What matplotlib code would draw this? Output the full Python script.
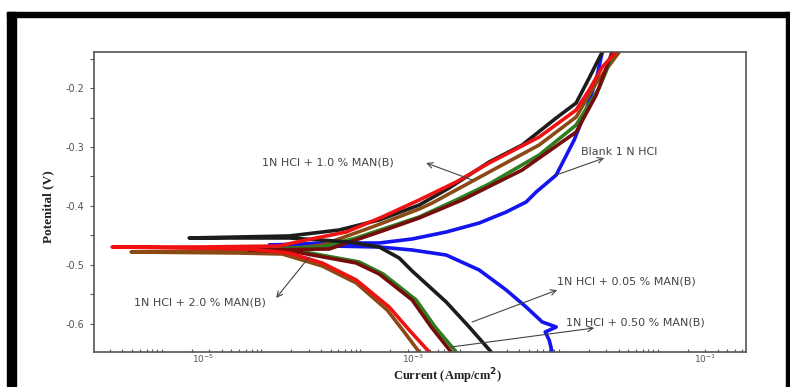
import numpy as np
import matplotlib
matplotlib.use("Agg")
import matplotlib.pyplot as plt
from matplotlib.patches import Rectangle
from matplotlib.ticker import LogLocator, FixedLocator, NullFormatter, FormatStrFormatter

# values: log10 of current (A/cm2) and potential (V),
# each curve runs cathodic end -> Ecorr -> anodic end
blank_logi = [-2.067, -2.097, -2.137, -2.026, -2.167, -2.329, -2.530, -2.802, -3.135, -3.478,
              -3.810, -4.315, -4.919, -4.315, -3.810, -3.478, -3.135, -2.802, -2.530, -2.329,
              -2.228, -2.026, -1.845, -1.724, -1.623, -1.562]
blank_e = [-0.6475, -0.6271, -0.6136, -0.6051, -0.5966, -0.5712, -0.5424, -0.5085, -0.4831, -0.4746,
           -0.4695, -0.4678, -0.4661, -0.4627, -0.4627, -0.4559, -0.4441, -0.4288, -0.4102, -0.3932,
           -0.3763, -0.3475, -0.2881, -0.2373, -0.1864, -0.139]

c005_logi = [-2.681, -2.903, -3.135, -3.478, -3.609, -3.810, -4.113, -4.718, -5.726, -4.718,
             -4.214, -3.810, -3.407, -3.105, -2.702, -2.369, -2.026, -1.825, -1.694, -1.562]
c005_e = [-0.6475, -0.6051, -0.5627, -0.5102, -0.4881, -0.4695, -0.4610, -0.4542, -0.4542, -0.4508,
          -0.4407, -0.4237, -0.3983, -0.3695, -0.3254, -0.2966, -0.2508, -0.2254, -0.1831, -0.139]

c01_logi = [-3.085, -3.286, -3.478, -3.810, -4.042, -4.647, -5.121, -4.315, -3.810, -3.407,
            -2.974, -2.369, -1.825, -1.623, -1.462]
c01_e = [-0.6475, -0.6051, -0.5593, -0.5153, -0.4966, -0.4780, -0.4746, -0.4729, -0.4441, -0.4203,
         -0.3898, -0.3390, -0.2746, -0.2119, -0.139]

c05_logi = [-3.034, -3.246, -3.438, -3.770, -4.012, -4.617, -5.121, -4.385, -4.042, -3.710,
            -3.407, -3.034, -2.702, -2.198, -1.825, -1.593, -1.442]
c05_e = [-0.6475, -0.6051, -0.5593, -0.5153, -0.4949, -0.4763, -0.4729, -0.4695, -0.4542, -0.4356,
         -0.4186, -0.3898, -0.3627, -0.3136, -0.2627, -0.2, -0.139]

c10_logi = [-3.306, -3.508, -3.710, -4.042, -4.385, -4.718, -5.121, -6.502, -5.625, -4.819,
            -4.546, -4.143, -3.780, -3.407, -3.034, -2.702, -2.198, -1.825, -1.694, -1.562, -1.421]
c10_e = [-0.6475, -0.6102, -0.5712, -0.5254, -0.4966, -0.4797, -0.4729, -0.4695, -0.4695, -0.4678,
         -0.4576, -0.4441, -0.4186, -0.3898, -0.3593, -0.3271, -0.2831, -0.2373, -0.2034, -0.1644, -0.139]

c20_logi = [-3.407, -3.558, -3.730, -4.042, -4.385, -4.788, -5.222, -6.310, -5.625, -4.788,
            -4.385, -3.881, -3.407, -3.276, -2.702, -2.198, -1.825, -1.623, -1.391]
c20_e = [-0.6475, -0.6136, -0.5763, -0.5305, -0.5017, -0.4814, -0.4797, -0.4780, -0.4780, -0.4746,
         -0.4661, -0.4356, -0.4051, -0.3949, -0.3424, -0.2966, -0.2492, -0.1915, -0.139]

curves = [
    (blank_logi, blank_e, "#1414f0"),
    (c20_logi, c20_e, "#8b4a14"),
    (c05_logi, c05_e, "#2f7d1f"),
    (c01_logi, c01_e, "#760c0c"),
    (c005_logi, c005_e, "#1c1c1c"),
    (c10_logi, c10_e, "#f01212"),
]

# annotation texts and arrows (tail on curve, head near text), log10 i / E
labels = ["1N HCl + 1.0 % MAN(B)", "Blank 1 N HCl", "1N HCl + 2.0 % MAN(B)",
          "1N HCl + 0.05 % MAN(B)", "1N HCl + 0.50 % MAN(B)"]
label_pos = [(-4.99, -0.327), (-1.774, -0.3085), (-6.28, -0.5644), (-2.016, -0.5288), (-1.925, -0.5983)]
arrow_tail = [(-2.873, -0.3559), (-2.026, -0.3475), (-4.516, -0.4864), (-2.873, -0.5966), (-3.085, -0.639)]
arrow_head = [(-3.337, -0.3271), (-1.542, -0.3186), (-4.849, -0.5559), (-2.016, -0.5424), (-1.643, -0.6068)]

xtick_text = ["$10^{-5}$", "$10^{-3}$", "$10^{-1}$"]
xtick_text_pos = [0.167, 0.489, 0.937]

fig = plt.figure(figsize=(7.9, 3.87), dpi=100)
ax = fig.add_axes([0.119, 0.0904, 0.8253, 0.7752])

for logi, e, col in curves:
    ax.plot(10 ** np.array(logi), e, color=col, lw=2.6, solid_capstyle="round", solid_joinstyle="round")

for txt, (tx, ty), (ax0, ay0), (ax1, ay1) in zip(labels, label_pos, arrow_tail, arrow_head):
    ax.annotate("", xy=(10 ** ax1, ay1), xytext=(10 ** ax0, ay0),
                arrowprops=dict(arrowstyle="->", color="#444444", lw=0.8, shrinkA=0, shrinkB=0))
    ax.text(10 ** tx, ty, txt, fontsize=8, color="#444444", va="center", ha="left")

ax.set_xscale("log")
ax.set_xlim(10 ** -6.685, 10 ** -0.113)
ax.set_ylim(-0.6475, -0.139)

ax.xaxis.set_major_locator(LogLocator(base=10, numticks=20))
ax.xaxis.set_minor_locator(LogLocator(base=10, subs=np.arange(2, 10), numticks=20))
ax.xaxis.set_major_formatter(NullFormatter())
ax.xaxis.set_minor_formatter(NullFormatter())
ax.tick_params(axis="x", which="both", direction="in", length=2.5, width=0.8, color="#555555")

ax.yaxis.set_major_locator(FixedLocator([-0.6, -0.5, -0.4, -0.3, -0.2]))
ax.yaxis.set_minor_locator(FixedLocator([-0.65, -0.55, -0.45, -0.35, -0.25, -0.15]))
ax.yaxis.set_major_formatter(FormatStrFormatter("%.1f"))
ax.tick_params(axis="y", which="both", direction="out", length=3, width=0.8, color="#555555",
               labelsize=7, labelcolor="#555555", pad=4)

for sp in ax.spines.values():
    sp.set_color("#555555")
    sp.set_linewidth(1.2)

for txt, xp in zip(xtick_text, xtick_text_pos):
    ax.text(xp, -0.024, txt, transform=ax.transAxes, fontsize=6.5, color="#555555", ha="center", va="center")

fig.text(0.061, 0.465, "Potenital (V)", rotation=90, family="Liberation Serif", fontweight="bold",
         fontsize=9.5, ha="center", va="center", color="#222222")
fig.text(0.566, 0.028, "Current (Amp/cm$^{\\mathbf{2}}$)", family="Liberation Serif", fontweight="bold",
         fontsize=9, ha="center", va="center", color="#222222")

# black frame around the picture
W, H = 790.0, 387.0
fig.add_artist(Rectangle((7 / W, 0), 9 / W, 1 - 12 / H, transform=fig.transFigure, color="black"))
fig.add_artist(Rectangle((7 / W, 1 - 17 / H), 782 / W, 5 / H, transform=fig.transFigure, color="black"))
fig.add_artist(Rectangle((786 / W, 0), 3 / W, 1 - 12 / H, transform=fig.transFigure, color="black"))

fig.savefig("out.png", dpi=100)
